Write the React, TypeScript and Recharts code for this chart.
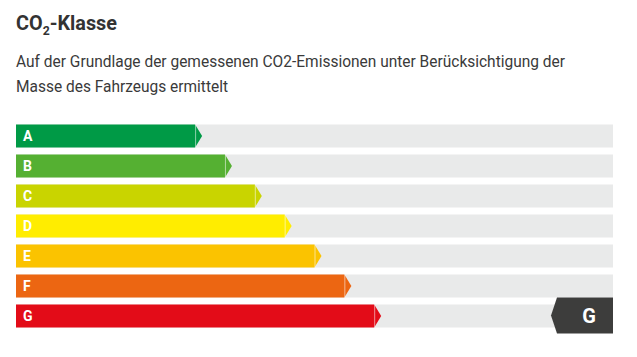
import React from 'react';
import { BarChart, Bar, XAxis, YAxis, LabelList } from 'recharts';

const classes = ['A', 'B', 'C', 'D', 'E', 'F', 'G'];
const values = [30, 35, 40, 45, 50, 55, 60];
const colors = ['#009a46', '#55b032', '#c9d400', '#ffed00', '#fbc300', '#ec6612', '#e30c18'];
const currentClass = 'G';
const titleMain = 'CO';
const titleSub = '2';
const titleRest = '-Klasse';
const subtitleLines = [
  'Auf der Grundlage der gemessenen CO2-Emissionen unter Berücksichtigung der',
  'Masse des Fahrzeugs ermittelt',
];

const data = classes.map((c, i) => ({ cls: c, value: values[i], color: colors[i] }));

const TIP = 7;

const ArrowShape = (props: any) => {
  const { x, y, width, height, payload, background } = props;
  const plotRight = background ? background.x + background.width : x + (width * 100) / payload.value;
  const isCurrent = payload.cls === currentClass;
  const cy = y + height / 2;
  const body = `M${x},${y} L${x + width},${y} L${x + width + TIP},${cy} L${x + width},${y + height} L${x},${y + height} Z`;
  const mTop = y - 7;
  const mBot = y + height + 6;
  const mLeft = plotRight - 62;
  const marker = `M${mLeft + 6},${mTop} L${plotRight},${mTop} L${plotRight},${mBot} L${mLeft + 6},${mBot} L${mLeft},${(mTop + mBot) / 2} Z`;
  return (
    <g>
      <path d={body} fill={payload.color} />
      <line x1={x + width + 0.5} y1={y} x2={x + width + 0.5} y2={y + height} stroke="#ffffff" strokeOpacity={0.55} strokeWidth={1} />
      {isCurrent && (
        <g>
          <path d={marker} fill="#3d3d3c" />
          <text
            x={mLeft + 38}
            y={(mTop + mBot) / 2 + 7}
            textAnchor="middle"
            fill="#ffffff"
            fontFamily="Roboto, sans-serif"
            fontWeight={700}
            fontSize={20}
          >
            {payload.cls}
          </text>
        </g>
      )}
    </g>
  );
};

const LetterLabel = (props: any) => {
  const { x, y, height, value } = props;
  return (
    <text
      x={x + 7}
      y={y + height / 2 + 5}
      fill="#ffffff"
      fontFamily="Roboto, sans-serif"
      fontWeight={700}
      fontSize={14}
    >
      {value}
    </text>
  );
};

export default function App() {
  return (
    <div style={{ position: 'absolute', left: 0, top: 0, width: 637, height: 357, background: '#ffffff' }}>
      <svg width={637} height={110} style={{ position: 'absolute', left: 0, top: 0 }}>
        <g fill="#333333" fontFamily="Roboto, sans-serif">
          <text x={16} y={30} fontSize={21} fontWeight={700} textLength={101} lengthAdjust="spacingAndGlyphs">
            {titleMain}
            <tspan dy={5} fontSize={13}>{titleSub}</tspan>
            <tspan dy={-5}>{titleRest}</tspan>
          </text>
          <text x={16} y={67} fontSize={17} textLength={549} lengthAdjust="spacingAndGlyphs" fill="#3a3a3a">
            {subtitleLines[0]}
          </text>
          <text x={16} y={92} fontSize={17} textLength={212} lengthAdjust="spacingAndGlyphs" fill="#3a3a3a">
            {subtitleLines[1]}
          </text>
        </g>
      </svg>
      <div style={{ position: 'absolute', left: 0, top: 0 }}>
        <BarChart
          width={637}
          height={357}
          data={data}
          layout="vertical"
          margin={{ top: 120.5, right: 24, bottom: 26.5, left: 16 }}
          barSize={23}
        >
          <XAxis type="number" domain={[0, 100]} hide />
          <YAxis type="category" dataKey="cls" hide />
          <Bar
            dataKey="value"
            isAnimationActive={false}
            background={{ fill: '#e9eaea' }}
            shape={ArrowShape}
          >
            <LabelList dataKey="cls" content={LetterLabel} />
          </Bar>
        </BarChart>
      </div>
    </div>
  );
}
